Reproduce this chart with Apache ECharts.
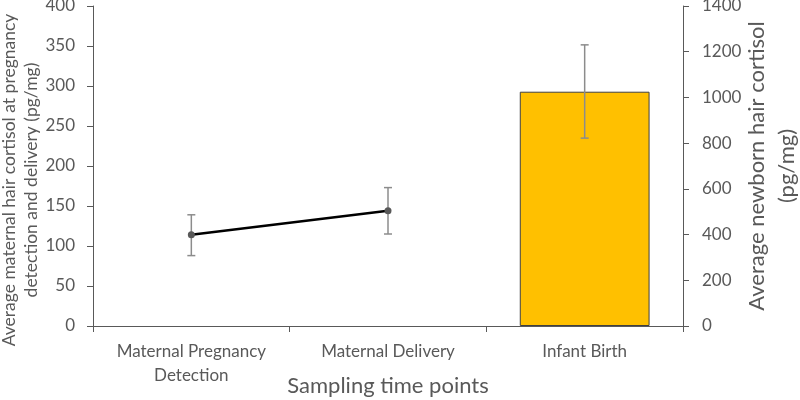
<!DOCTYPE html>
<html>
<head>
<meta charset="utf-8">
<script src="https://cdn.jsdelivr.net/npm/echarts@6/dist/echarts.min.js"></script>
<style>html,body{margin:0;padding:0;background:#fff}#c{width:800px;height:400px}</style>
</head>
<body>
<div id="c"></div>
<script>
const categories = ['Maternal Pregnancy\nDetection', 'Maternal Delivery', 'Infant Birth'];
const maternalMean = [114, 144, null];
const maternalLow = [88, 115, null];
const maternalHigh = [139, 173, null];
const newbornMean = [null, null, 1025];
const newbornLow = [null, null, 822];
const newbornHigh = [null, null, 1230];
const leftTicks = [0, 400, 50];
const rightTicks = [0, 1400, 200];
const leftTitle = 'Average maternal hair cortisol at pregnancy\ndetection and delivery (pg/mg)';

const font = 'Lato, "Open Sans", sans-serif';
const gray = '#595959';

function errData(low, high) {
  const out = [];
  for (let i = 0; i < low.length; i++) if (low[i] != null) out.push([i, low[i], high[i]]);
  return out;
}
function renderErr(params, api) {
  const x = api.value(0);
  const lo = api.coord([x, api.value(1)]);
  const hi = api.coord([x, api.value(2)]);
  const w = 4;
  const style = { stroke: '#8c8c8c', lineWidth: 1.5 };
  return {
    type: 'group',
    children: [
      { type: 'line', shape: { x1: lo[0], y1: lo[1], x2: hi[0], y2: hi[1] }, style },
      { type: 'line', shape: { x1: lo[0] - w, y1: lo[1], x2: lo[0] + w, y2: lo[1] }, style },
      { type: 'line', shape: { x1: hi[0] - w, y1: hi[1], x2: hi[0] + w, y2: hi[1] }, style }
    ]
  };
}

const chart = echarts.init(document.getElementById('c'));
chart.setOption({
  animation: false,
  textStyle: { fontFamily: font },
  grid: { left: 93, right: 117, top: 6, bottom: 74, containLabel: false, outerBoundsMode: 'none' },
  graphic: [{
    type: 'text',
    x: 20, y: 180,
    rotation: Math.PI / 2,
    style: {
      text: leftTitle,
      fill: gray,
      font: '17.5px ' + font,
      lineHeight: 22,
      align: 'center',
      verticalAlign: 'middle'
    }
  }],
  xAxis: {
    type: 'category',
    data: categories,
    boundaryGap: true,
    axisLine: { lineStyle: { color: gray, width: 1 } },
    axisTick: { show: true, length: 6, lineStyle: { color: gray } },
    axisLabel: { color: gray, fontSize: 17, margin: 14, lineHeight: 24, fontFamily: font },
    name: 'Sampling time points',
    nameLocation: 'middle',
    nameGap: 60,
    nameMoveOverlap: false,
    nameTextStyle: { color: gray, fontSize: 22, fontFamily: font, verticalAlign: 'middle', align: 'center' }
  },
  yAxis: [
    {
      type: 'value',
      min: leftTicks[0], max: leftTicks[1], interval: leftTicks[2],
      splitLine: { show: false },
      axisLine: { show: true, lineStyle: { color: gray } },
      axisTick: { show: true, length: 6, lineStyle: { color: gray } },
      axisLabel: { color: gray, fontSize: 17, margin: 18, fontFamily: font }
    },
    {
      type: 'value',
      position: 'right',
      min: rightTicks[0], max: rightTicks[1], interval: rightTicks[2],
      splitLine: { show: false },
      axisLine: { show: true, lineStyle: { color: gray } },
      axisTick: { show: true, length: 6, lineStyle: { color: gray } },
      axisLabel: { color: gray, fontSize: 17, margin: 19, fontFamily: font, formatter: v => String(v) },
      name: 'Average newborn hair cortisol\n(pg/mg)',
      nameLocation: 'middle',
      nameRotate: 90,
      nameGap: 89,
      nameMoveOverlap: false,
      nameTextStyle: { color: gray, fontSize: 22, lineHeight: 30, fontFamily: font, verticalAlign: 'middle', align: 'center' }
    }
  ],
  series: [
    {
      type: 'bar',
      yAxisIndex: 1,
      data: newbornMean,
      barWidth: '66%',
      itemStyle: { color: '#FFC000', borderColor: '#404040', borderWidth: 1 }
    },
    {
      type: 'custom',
      yAxisIndex: 1,
      data: errData(newbornLow, newbornHigh),
      renderItem: renderErr,
      z: 5
    },
    {
      type: 'custom',
      yAxisIndex: 0,
      data: errData(maternalLow, maternalHigh),
      renderItem: renderErr,
      z: 3
    },
    {
      type: 'line',
      yAxisIndex: 0,
      data: maternalMean,
      connectNulls: false,
      lineStyle: { color: '#000', width: 2.5 },
      symbol: 'circle',
      symbolSize: 7,
      itemStyle: { color: '#595959' },
      z: 4
    }
  ]
});
</script>
</body>
</html>
